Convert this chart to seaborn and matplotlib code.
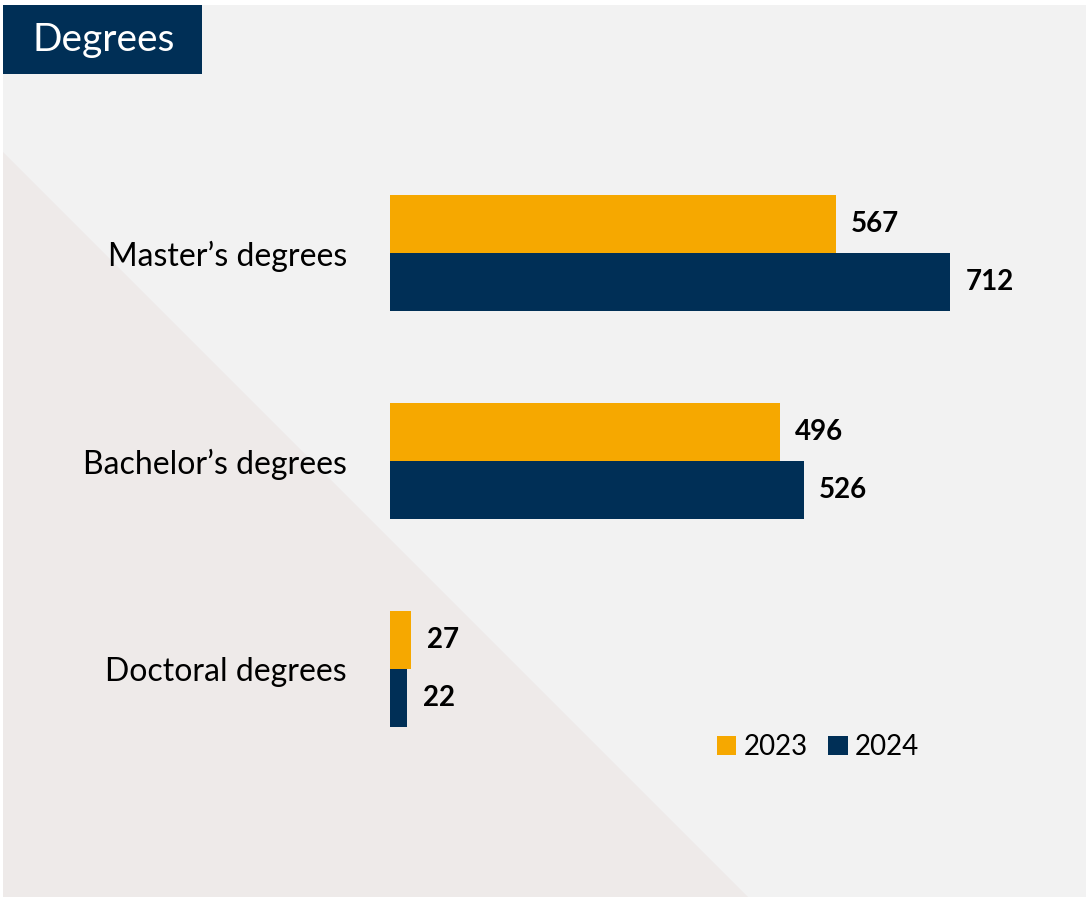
"""
Degrees awarded, 2023 vs 2024, as a horizontal grouped bar chart.
"""

import matplotlib.pyplot as plt
import pandas as pd
import seaborn as sns
from matplotlib.patches import Polygon, Rectangle

# Data
degrees = ["Master\u2019s degrees", "Bachelor\u2019s degrees", "Doctoral degrees"]
years = ["2023", "2024"]
counts_2023 = [567, 496, 27]
counts_2024 = [712, 526, 22]

ORANGE = "#F6A800"
NAVY = "#002F56"
PANEL = "#F2F2F2"
WEDGE = "#EEEAE9"

W, H = 1089, 900


def px(x, y):
    """Pixel (from top-left) to figure fraction."""
    return x / W, 1 - y / H


def build_frame() -> pd.DataFrame:
    rows = []
    for year, values in zip(years, [counts_2023, counts_2024]):
        for degree, value in zip(degrees, values):
            rows.append({"Degree": degree, "Year": year, "Count": value})
    return pd.DataFrame(rows)


def main() -> None:
    sns.set_style("white")
    plt.rcParams["font.family"] = ["Lato", "DejaVu Sans"]

    fig = plt.figure(figsize=(W / 100, H / 100), dpi=100)
    fig.patch.set_facecolor("white")

    # Background panel and the diagonal wedge
    x0, y0 = px(3, 897)
    x1, y1 = px(1086, 5)
    fig.patches.append(Rectangle((x0, y0), x1 - x0, y1 - y0,
                                 transform=fig.transFigure,
                                 facecolor=PANEL, edgecolor="none", zorder=0))
    fig.patches.append(Polygon([px(3, 152), px(3, 897), px(748, 897)],
                               closed=True, transform=fig.transFigure,
                               facecolor=WEDGE, edgecolor="none", zorder=0))

    # Title box
    bx0, by0 = px(3, 74)
    bx1, by1 = px(202, 5)
    fig.patches.append(Rectangle((bx0, by0), bx1 - bx0, by1 - by0,
                                 transform=fig.transFigure,
                                 facecolor=NAVY, edgecolor="none", zorder=1))
    tx, ty = px(33, 40)
    fig.text(tx, ty, "Degrees", color="white", fontsize=28,
             ha="left", va="center", zorder=2)

    # Bars
    left, _ = px(390, 0)
    _, top = px(0, 65.8)
    _, bottom = px(0, 856.2)
    ax = fig.add_axes([left, bottom, 0.6139, top - bottom])
    ax.set_facecolor("none")
    ax.set_zorder(3)

    df = build_frame()
    sns.barplot(
        data=df,
        y="Degree",
        x="Count",
        hue="Year",
        orient="h",
        palette=[ORANGE, NAVY],
        width=0.558,
        saturation=1,
        linewidth=0,
        ax=ax
    )

    ax.set_xlim(0, 850)
    ax.set_ylim(2.9, -0.9)

    for container in ax.containers:
        ax.bar_label(container, padding=11, fontsize=20,
                     fontweight="bold", color="black")

    ax.set_xlabel("")
    ax.set_ylabel("")
    ax.set_xticks([])
    ax.tick_params(axis="y", length=0, pad=31, labelsize=23,
                   labelcolor="black")
    for spine in ax.spines.values():
        spine.set_visible(False)

    handles, labels = ax.get_legend_handles_labels()
    legend = ax.legend(
        handles, labels,
        ncol=2,
        frameon=False,
        loc="center left",
        bbox_to_anchor=px(692, 747),
        bbox_transform=fig.transFigure,
        fontsize=20,
        handlelength=0.7,
        handleheight=0.7,
        handletextpad=0.25,
        columnspacing=0.75
    )
    for text in legend.get_texts():
        text.set_color("black")

    fig.savefig("out.png", dpi=100)


if __name__ == "__main__":
    main()
